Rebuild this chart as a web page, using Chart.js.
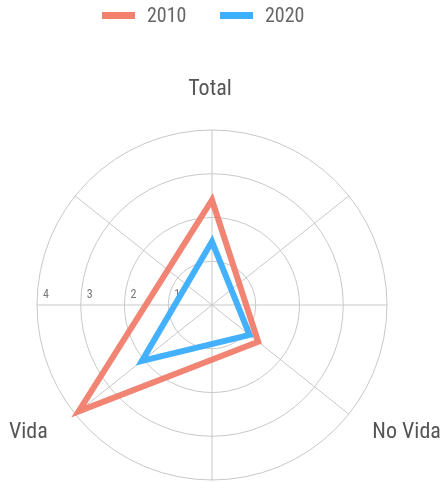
<!DOCTYPE html>
<html>
<head>
<meta charset="utf-8">
<script src="https://cdn.jsdelivr.net/npm/chart.js@4.4.0/dist/chart.umd.min.js"></script>
<style>
  html, body { margin: 0; padding: 0; background: #ffffff; }
  #wrap { position: relative; width: 443px; height: 482px; overflow: hidden; }
  #c { position: absolute; left: 0; top: 0; }
  #legend { position: absolute; left: 0; top: 0; width: 443px; height: 32px;
            font-family: "Roboto Condensed", "DejaVu Sans Condensed", "Liberation Sans Narrow", Roboto, sans-serif; }
  .lg-box { position: absolute; top: 12px; width: 33px; height: 7px; }
  .lg-txt { position: absolute; top: 5px; font-size: 20px; line-height: 20px; color: #666666; white-space: nowrap; }
</style>
</head>
<body>
<div id="wrap">
  <canvas id="c" width="443" height="482"></canvas>
  <div id="legend"></div>
</div>
<script>
// ---- data ----
const categories = ['Total', 'No Vida', 'Vida'];
const seriesNames = ['2010', '2020'];
const values2010 = [2.4, 1.35, 3.9];
const values2020 = [1.45, 1.1, 2.05];
const tickValues = [1, 2, 3, 4];

// ---- layout of the angular slots (radar with 28 evenly spaced slots) ----
const SLOTS = 28;
const categorySlots = [0, 10, 18];
const spokeSlots = [0, 4, 7, 10, 14, 18, 21, 24];
const tickSlot = 21;

const FONT = '"Roboto Condensed", "DejaVu Sans Condensed", "Liberation Sans Narrow", Roboto, sans-serif';
const GRID = 'rgb(200,200,200)';
const colors = ['rgba(241,122,104,0.92)', 'rgba(52,170,255,0.92)'];
const legendColors = ['rgb(244,128,110)', 'rgb(60,175,255)'];

const slotLabels = new Array(SLOTS).fill('');
categorySlots.forEach((s, i) => { slotLabels[s] = categories[i]; });
function toSlots(vals) {
  const a = new Array(SLOTS).fill(null);
  categorySlots.forEach((s, i) => { a[s] = vals[i]; });
  return a;
}

const textPlugin = {
  id: 'radarText',
  beforeDatasetsDraw(chart) {
    const s = chart.scales.r, ctx = chart.ctx;
    ctx.save();
    ctx.font = '12px ' + FONT;
    ctx.fillStyle = '#777777';
    ctx.textAlign = 'left';
    ctx.textBaseline = 'middle';
    tickValues.forEach(v => {
      const p = s.getPointPositionForValue(tickSlot, v);
      ctx.fillText(String(v), p.x + 6, p.y - 10);
    });
    ctx.restore();
  },
  afterDatasetsDraw(chart) {
    const s = chart.scales.r, ctx = chart.ctx;
    ctx.save();
    ctx.font = '22px ' + FONT;
    ctx.fillStyle = '#555555';
    categories.forEach((name, i) => {
      const slot = categorySlots[i];
      const deg = slot * 360 / SLOTS;
      const p = s.getPointPosition(slot, s.drawingArea + 30);
      if (deg === 0 || deg === 180) {
        ctx.textAlign = 'center';
        ctx.textBaseline = deg === 0 ? 'bottom' : 'top';
        ctx.fillText(name, p.x - 2, p.y);
      } else if (deg < 180) {
        ctx.textAlign = 'left';
        ctx.textBaseline = 'middle';
        ctx.fillText(name, p.x, p.y);
      } else {
        ctx.textAlign = 'right';
        ctx.textBaseline = 'middle';
        ctx.fillText(name, p.x - 4, p.y);
      }
    });
    ctx.restore();
  }
};

const chart = new Chart(document.getElementById('c'), {
  type: 'radar',
  data: {
    labels: slotLabels,
    datasets: [
      { label: seriesNames[0], data: toSlots(values2010), borderColor: colors[0], backgroundColor: colors[0], fill: false, spanGaps: true },
      { label: seriesNames[1], data: toSlots(values2020), borderColor: colors[1], backgroundColor: colors[1], fill: false, spanGaps: true }
    ]
  },
  options: {
    responsive: false,
    animation: false,
    layout: { padding: { top: 130, bottom: 2, left: 0, right: 19 } },
    plugins: { legend: { display: false }, tooltip: { enabled: false } },
    elements: {
      point: { radius: 0, hoverRadius: 0 },
      line: { borderWidth: 6, tension: 0, borderJoinStyle: 'miter' }
    },
    scales: {
      r: {
        min: 0, max: 4,
        ticks: { display: false, stepSize: 1 },
        pointLabels: { display: false },
        grid: { circular: true, color: GRID, lineWidth: 1 },
        angleLines: {
          display: true,
          color: c => spokeSlots.includes(c.index) ? GRID : 'rgba(0,0,0,0)',
          lineWidth: c => spokeSlots.includes(c.index) ? 1 : 0
        }
      }
    }
  },
  plugins: [textPlugin]
});

// HTML legend built from the chart's datasets
const legendLeft = [102, 220];
const legend = document.getElementById('legend');
chart.data.datasets.forEach((ds, i) => {
  const box = document.createElement('div');
  box.className = 'lg-box';
  box.style.left = legendLeft[i] + 'px';
  box.style.background = legendColors[i];
  const txt = document.createElement('div');
  txt.className = 'lg-txt';
  txt.style.left = (legendLeft[i] + 45) + 'px';
  txt.textContent = ds.label;
  legend.appendChild(box);
  legend.appendChild(txt);
});
</script>
</body>
</html>
